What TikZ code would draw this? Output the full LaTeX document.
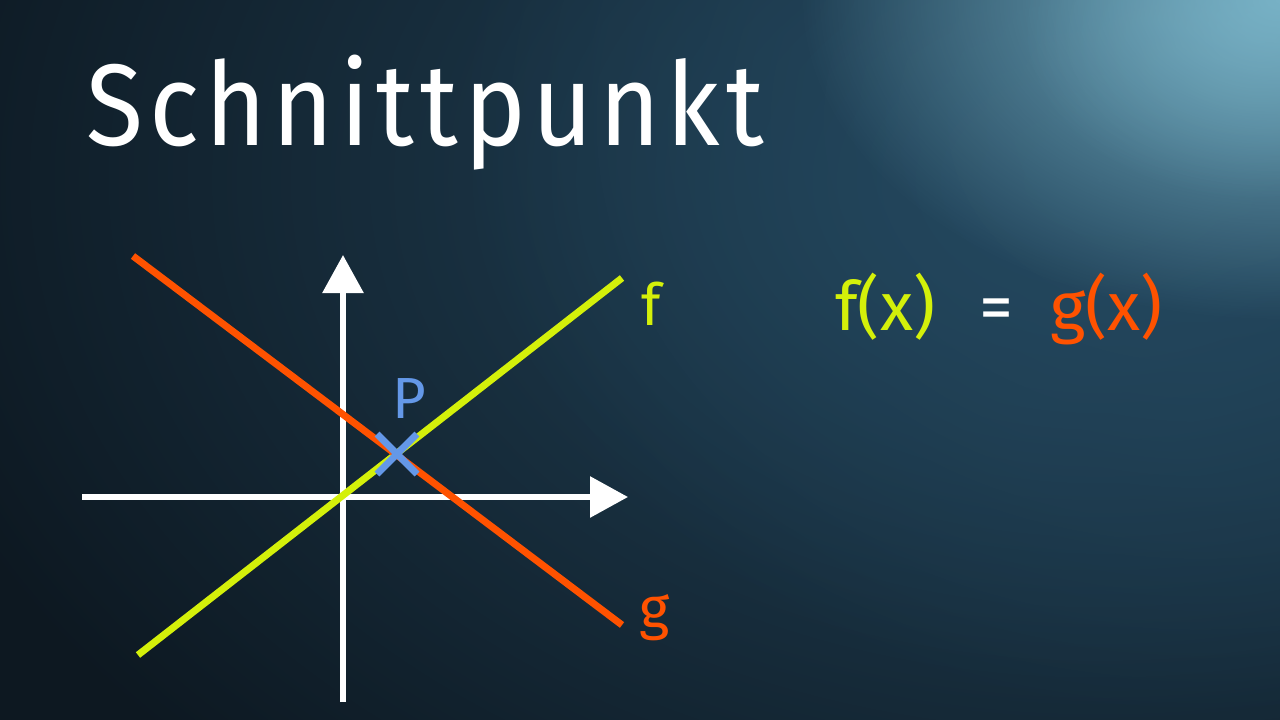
\documentclass[tikz,border=0pt]{standalone}
\usepackage{fontspec}
\setmainfont{Fira Sans}
\usetikzlibrary{arrows.meta,fadings,shapes.misc}
\definecolor{bgbase}{RGB}{13,24,33}
\definecolor{bgmid}{RGB}{36,72,95}
\definecolor{glow}{RGB}{120,178,198}
\definecolor{fcol}{RGB}{212,240,10}
\definecolor{gcol}{RGB}{255,82,0}
\definecolor{pcol}{RGB}{100,152,232}
\tikzfading[name=glowfade, inner color=transparent!0, outer color=transparent!100]
\tikzset{
  axis/.style={draw=white, line width=6pt, -{Triangle[length=38pt,width=40pt]}},
  fline/.style={draw=fcol, line width=7pt},
  gline/.style={draw=gcol, line width=7pt},
  xmark/.style={cross out, draw=pcol, line width=7pt, minimum size=33pt, inner sep=0pt},
  lbl/.style={inner sep=0pt, font=\fontsize{58}{58}\selectfont},
  eq/.style={inner sep=0pt, font=\fontsize{68}{68}\selectfont},
}
\begin{document}
\begin{tikzpicture}[x=1pt,y=-1pt]
\useasboundingbox (0,0) rectangle (1280,720);
\begin{scope}
\clip (0,0) rectangle (1280,720);
\fill[bgbase] (0,0) rectangle (1280,720);
\fill[bgmid, path fading=glowfade] (1100,180) ellipse (1250 and 850);
\fill[bgmid, path fading=glowfade] (1200,120) ellipse (750 and 600);
\fill[glow, path fading=glowfade] (1280,0) ellipse (480 and 320);
\fill[glow, opacity=0.5, path fading=glowfade] (1260,30) ellipse (240 and 170);
\end{scope}
% title
\node[inner sep=0pt, anchor=base west, text=white, font=\fontsize{116}{116}\selectfont\addfontfeatures{LetterSpace=6}] (title) at (86,145) {\scalebox{0.9}[1]{Schnittpunkt}};
% axes
\coordinate (xs) at (82,497);
\coordinate (xe) at (628,497);
\coordinate (ys) at (343,702);
\coordinate (ye) at (343,255);
\draw[axis] (xs) -- (xe);
\draw[axis] (ys) -- (ye);
% lines
\coordinate (f1) at (138,655);
\coordinate (f2) at (622,278);
\coordinate (g1) at (133,256);
\coordinate (g2) at (622,625);
\draw[fline] (f1) -- (f2);
\draw[gline] (g1) -- (g2);
% intersection
\node[xmark] (P) at (397,454) {};
\node[lbl, text=pcol, anchor=base west] (plabel) at (392,418) {P};
\node[lbl, text=fcol, anchor=base west] (flabel) at (641,325) {f};
\node[lbl, text=gcol, anchor=base west] (glabel) at (639,628) {g};
% equation
\node[eq, text=fcol, anchor=base west] (fx) at (835,330) {f(x)};
\node[eq, text=white, anchor=base] (eqsign) at (996,330) {=};
\node[eq, text=gcol, anchor=base west] (gx) at (1050,330) {g(x)};
\end{tikzpicture}
\end{document}
